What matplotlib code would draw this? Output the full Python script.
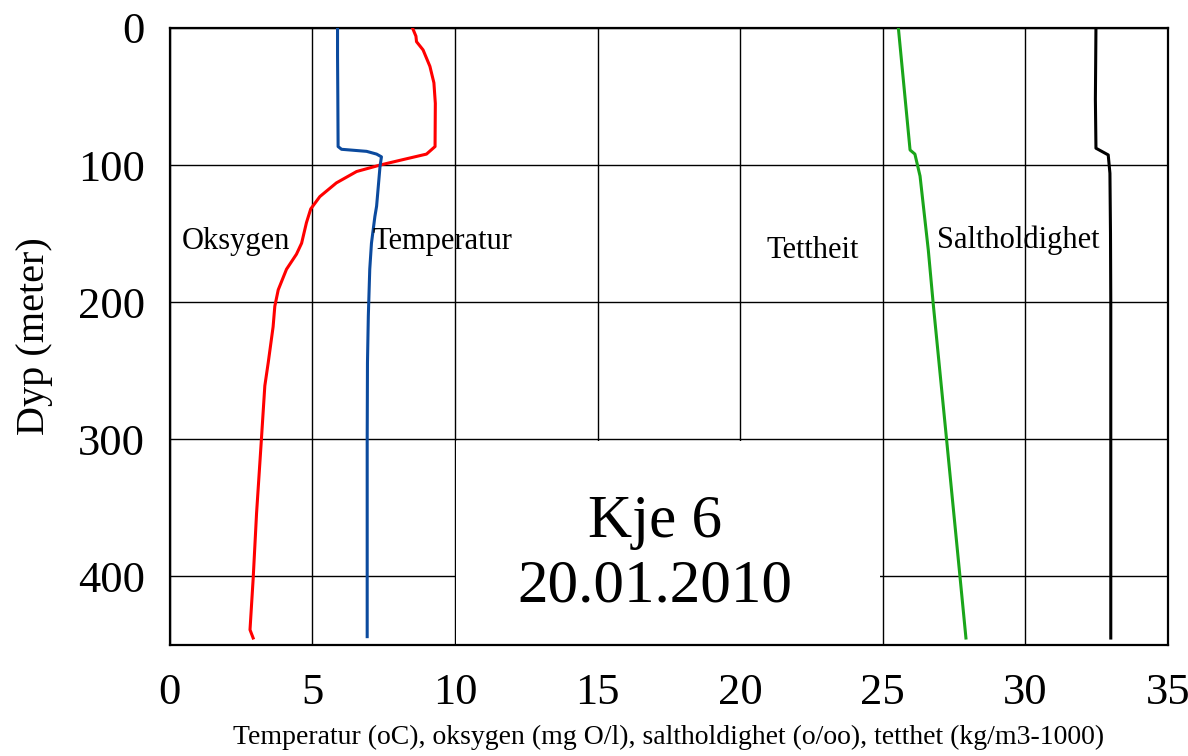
import numpy as np
import matplotlib
matplotlib.use("Agg")
import matplotlib.pyplot as plt
from matplotlib.patches import Rectangle

plt.rcParams['font.family'] = ['Liberation Serif', 'DejaVu Serif']

# depth profiles (depth in m, value on shared x scale)
temp_depth = [0, 20, 50, 86.5, 88.5, 90, 92, 94, 101, 130, 137.5, 157, 176, 210, 244, 300, 400, 444]
temp_val = [5.88, 5.88, 5.89, 5.9, 6.02, 6.9, 7.25, 7.42, 7.37, 7.25, 7.19, 7.07, 7.01, 6.96, 6.93, 6.92, 6.92, 6.92]

oxy_depth = [0, 6, 10, 16, 28, 40, 55, 86.5, 92, 96, 100, 104.7, 113, 123, 132, 142, 157, 165,
             176, 191, 203, 218, 244, 261, 300, 354, 402, 439, 445]
oxy_val = [8.51, 8.63, 8.65, 8.88, 9.12, 9.26, 9.31, 9.3, 9.0, 8.18, 7.37, 6.55, 5.84, 5.26, 4.94, 4.79, 4.62, 4.44,
           4.09, 3.8, 3.68, 3.62, 3.45, 3.33, 3.21, 3.04, 2.92, 2.81, 2.92]

dens_depth = [0, 89, 92, 108, 162, 200.7, 300, 400, 445]
dens_val = [25.55, 25.96, 26.13, 26.31, 26.6, 26.77, 27.24, 27.71, 27.92]

salt_depth = [0, 52, 87.7, 92.6, 106, 150, 200, 300, 400, 445]
salt_val = [32.48, 32.46, 32.48, 32.91, 32.97, 32.99, 33.0, 33.0, 33.0, 33.0]

x_ticks = [0, 5, 10, 15, 20, 25, 30, 35]
y_ticks = [0, 100, 200, 300, 400]

fig = plt.figure(figsize=(11.88, 7.56), dpi=100)
ax = fig.add_axes([0.143, 0.147, 0.840, 0.816])

ax.plot(oxy_val, oxy_depth, color='#ff0000', lw=2.2, zorder=4)
ax.plot(temp_val, temp_depth, color='#0b4a9e', lw=2.2, zorder=4)
ax.plot(dens_val, dens_depth, color='#1aa51a', lw=2.2, zorder=4)
ax.plot(salt_val, salt_depth, color='black', lw=2.2, zorder=4)

ax.set_xlim(0, 35)
ax.set_ylim(450, 0)
ax.set_xticks(x_ticks)
ax.set_yticks(y_ticks)
ax.grid(True, color='black', lw=1.0)
ax.set_axisbelow(True)
ax.tick_params(length=0, labelsize=32)
ax.tick_params(axis='x', pad=20)
ax.tick_params(axis='y', pad=18)
for s in ax.spines.values():
    s.set_linewidth(1.6)

# white box behind the station label hides the grid
ax.add_patch(Rectangle((10.05, 301), 14.85, 149, facecolor='white', edgecolor='none', zorder=2))
ax.text(17.0, 384, 'Kje 6\n20.01.2010', ha='center', va='center', fontsize=44,
        linespacing=1.2, zorder=5)

ax.text(0.42, 156, 'Oksygen', fontsize=22, va='center', zorder=5)
ax.text(7.09, 156, 'Temperatur', fontsize=22, va='center', zorder=5)
ax.text(20.94, 162, 'Tettheit', fontsize=22, va='center', zorder=5)
ax.text(26.9, 154.5, 'Saltholdighet', fontsize=22, va='center', zorder=5)

ax.set_ylabel('Dyp (meter)', fontsize=29, labelpad=18)
ax.set_xlabel('Temperatur (oC), oksygen (mg O/l), saltholdighet (o/oo), tetthet (kg/m3-1000)',
              fontsize=20, labelpad=9)

fig.savefig('out.png', dpi=100)
